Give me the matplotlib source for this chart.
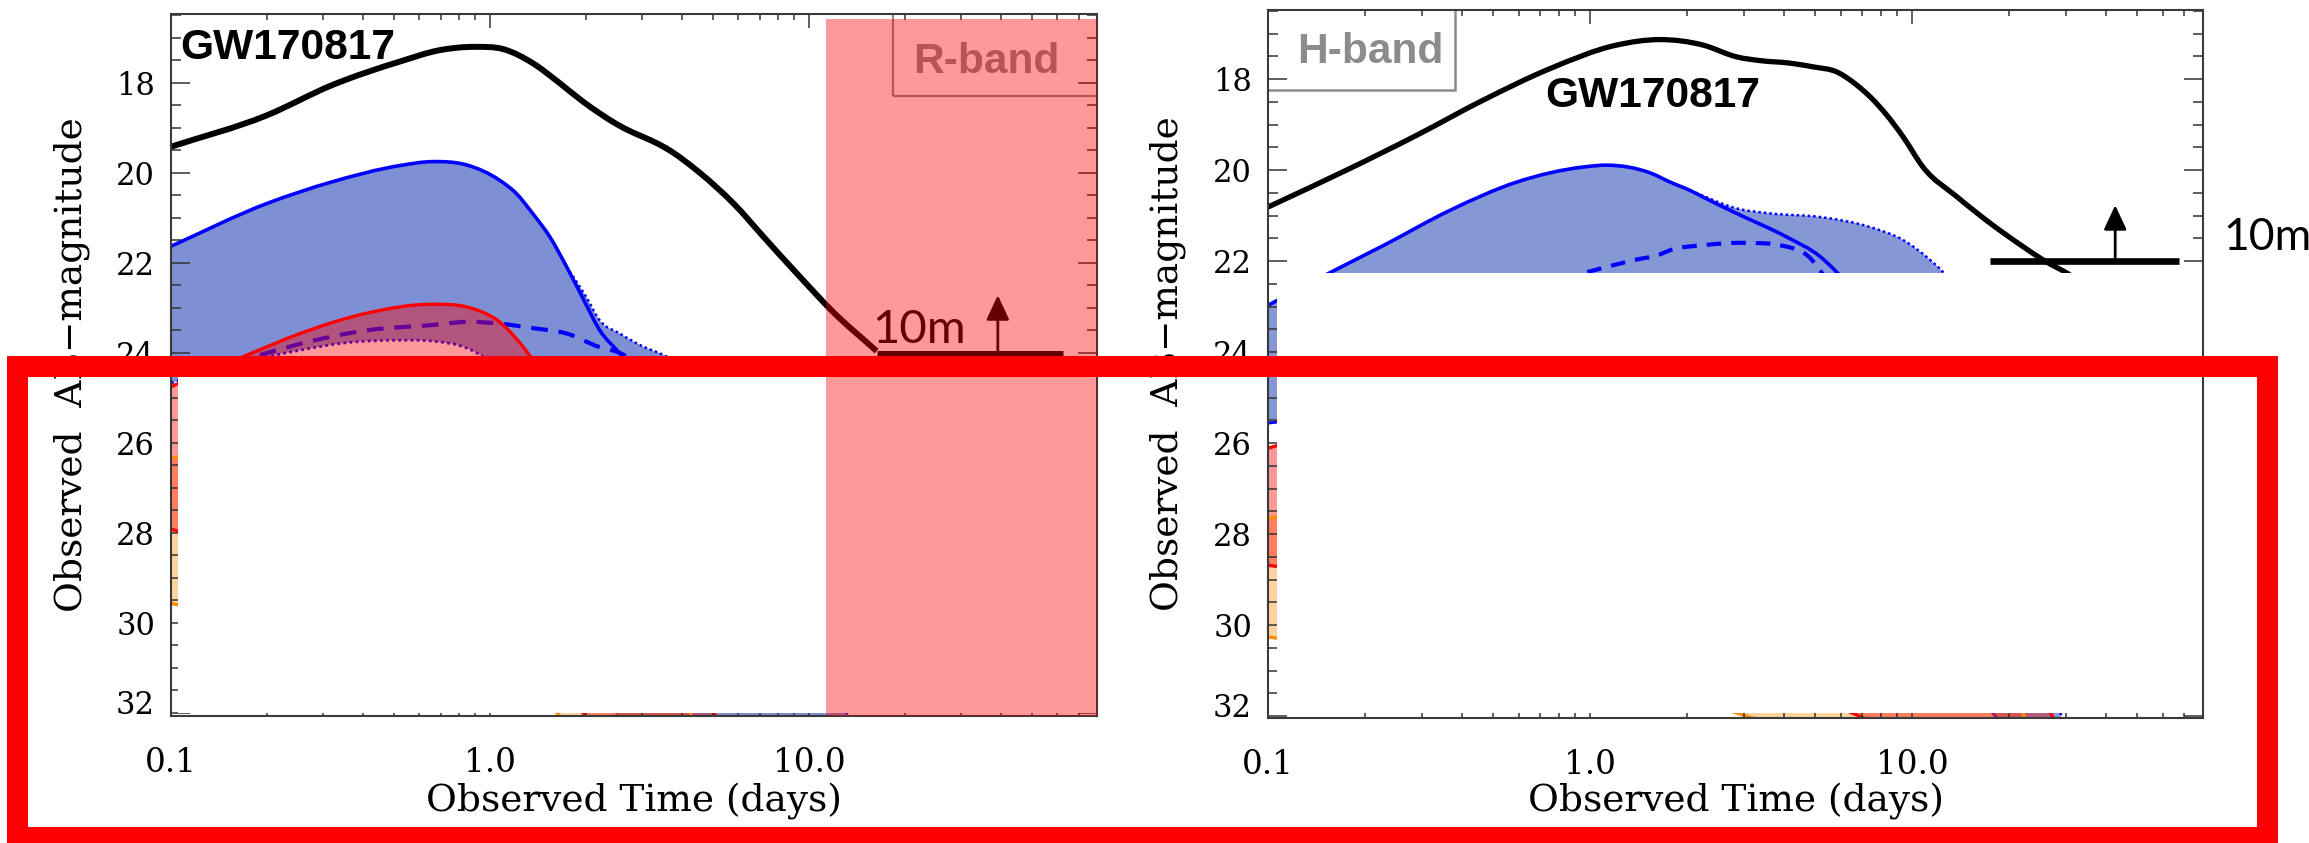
import numpy as np
import matplotlib
matplotlib.use("Agg")
import matplotlib.pyplot as plt
from matplotlib.patches import Rectangle, PathPatch
from matplotlib.path import Path
from matplotlib.ticker import LogLocator, NullFormatter, MultipleLocator
import matplotlib.transforms as mtransforms

plt.rcParams['font.family'] = ['DejaVu Serif']

# ---------------- shared axis data ----------------
x_ticks = [0.1, 1.0, 10.0]
x_tick_labels = ["0.1", "1.0", "10.0"]
y_ticks = [18, 20, 22, 24, 26, 28, 30, 32]
y_tick_labels = ["18", "20", "22", "24", "26", "28", "30", "32"]

# ---------------- R-band panel ----------------
r_black_t = [0.1, 0.2, 0.32, 0.52, 0.7, 0.9, 1.1, 1.36, 1.65, 1.96, 2.21, 2.5, 2.8,
             3.2, 3.58, 4.55, 5.8, 7.37, 9.37, 11.9, 16.3]
r_black_m = [19.42, 18.72, 18.05, 17.53, 17.27, 17.2, 17.25, 17.56, 18.0, 18.42, 18.68,
             18.92, 19.1, 19.28, 19.46, 20.0, 20.68, 21.5, 22.31, 23.09, 23.96]

r_blue_top_t = [0.1, 0.2, 0.32, 0.52, 0.66, 0.85, 1.07, 1.21, 1.36, 1.54, 1.74, 1.96,
                2.21, 2.55, 2.9, 3.5]
r_blue_top_m = [21.63, 20.68, 20.2, 19.84, 19.75, 19.83, 20.16, 20.46, 20.9, 21.42,
                22.09, 22.8, 23.5, 24.01, 24.5, 25.3]
r_blue_edge_t = [1.74, 2.0, 2.21, 2.55, 3.0, 3.5, 4.2, 5.0, 7.0, 10.0, 14.0]
r_blue_edge_m = [22.09, 22.75, 23.28, 23.57, 23.85, 24.05, 24.4, 25.0, 27.0, 29.5, 32.6]
r_blue_low_t = [0.1, 0.15, 0.25, 0.35, 0.52, 0.66, 0.85, 1.0, 1.3, 1.8, 2.6, 14.0]
r_blue_low_m = [24.67, 24.3, 23.95, 23.78, 23.72, 23.74, 23.9, 24.2, 25.2, 27.5, 32.6, 32.6]
r_blue_dash_t = [0.19, 0.254, 0.41, 0.664, 0.85, 1.07, 1.36, 1.74, 2.2, 2.55, 3.2]
r_blue_dash_m = [24.05, 23.8, 23.5, 23.38, 23.31, 23.35, 23.45, 23.57, 23.87, 24.0, 24.5]

r_red_top_t = [0.1, 0.173, 0.254, 0.41, 0.664, 0.845, 1.07, 1.33, 1.6, 2.0, 2.6, 3.5, 5.5]
r_red_top_m = [24.75, 24.05, 23.57, 23.12, 22.92, 22.98, 23.31, 24.05, 24.9, 26.0, 27.8,
               29.5, 32.6]
r_red_low_t = [0.1, 0.2, 0.5, 1.0, 1.6, 2.3, 5.5]
r_red_low_m = [27.92, 28.5, 29.3, 30.2, 31.2, 32.6, 32.6]

r_orange_top_t = [0.1, 0.3, 0.8, 1.5, 2.5, 3.5, 4.5]
r_orange_top_m = [26.34, 25.7, 25.6, 26.3, 28.0, 30.0, 32.6]
r_orange_low_t = [0.1, 0.3, 0.8, 1.5, 2.0, 4.5]
r_orange_low_m = [29.57, 30.2, 31.0, 31.8, 32.6, 32.6]

r_limit_t = [16.3, 62.4]
r_limit_m = 24.0
r_arrow_t = 39.1
r_arrow_tip = 22.72
r_window_start = 11.3

# ---------------- H-band panel ----------------
h_black_t = [0.1, 0.18, 0.29, 0.466, 0.75, 1.21, 1.65, 2.24, 2.85, 3.45, 4.08, 4.93,
             5.83, 6.73, 7.41, 8.34, 9.38, 10.8, 13.8, 17.5, 22.2, 25.6, 30.2, 36.0]
h_black_m = [20.81, 19.96, 19.23, 18.46, 17.77, 17.25, 17.13, 17.25, 17.51, 17.6, 17.64,
             17.73, 17.84, 18.13, 18.39, 18.79, 19.27, 19.93, 20.59, 21.17, 21.69, 21.98,
             22.26, 22.6]

h_blue_top_t = [0.1, 0.156, 0.229, 0.368, 0.593, 0.955, 1.13, 1.55, 1.77, 2.05, 2.24,
                2.85, 4.08, 5.18, 5.83, 7.0]
h_blue_top_m = [22.97, 22.25, 21.65, 20.88, 20.26, 19.93, 19.89, 20.07, 20.26, 20.45,
                20.59, 20.95, 21.47, 21.9, 22.24, 22.9]
h_blue_edge_t = [2.05, 2.85, 3.62, 5.18, 7.4, 9.4, 11.4, 12.5, 15.0, 20.0, 30.0]
h_blue_edge_m = [20.45, 20.84, 20.95, 21.03, 21.25, 21.54, 21.98, 22.25, 23.2, 25.5, 32.6]
h_blue_low_t = [0.1, 0.3, 1.0, 3.0, 8.0, 24.0, 30.0]
h_blue_low_m = [25.56, 25.2, 25.0, 26.0, 28.5, 32.6, 32.6]
h_blue_dash_t = [0.98, 1.36, 1.65, 1.77, 2.24, 3.2, 3.89, 4.82, 5.3]
h_blue_dash_m = [22.24, 21.98, 21.85, 21.76, 21.65, 21.6, 21.65, 21.93, 22.3]

h_red_top_t = [0.1, 0.3, 1.0, 3.0, 8.0, 15.0, 30.0]
h_red_top_m = [26.11, 25.2, 24.8, 25.3, 27.0, 28.5, 32.6]
h_red_low_t = [0.1, 0.5, 2.0, 5.0, 8.9, 30.0]
h_red_low_m = [28.68, 29.5, 30.8, 31.6, 32.3, 32.6]

h_orange_top_t = [0.1, 0.5, 2.0, 8.0, 16.0, 24.0]
h_orange_top_m = [27.65, 26.8, 26.5, 27.5, 29.5, 32.6]
h_orange_low_t = [0.1, 0.5, 2.0, 4.3, 24.0]
h_orange_low_m = [30.26, 30.9, 31.6, 32.3, 32.6]

h_limit_t = [17.5, 67.5]
h_limit_m = 22.0
h_arrow_t = 42.7
h_arrow_tip = 20.77

event_name = "GW170817"
limit_label = "10m"
x_label = "Observed Time (days)"
y_label = "Observed  AB\u2212magnitude"

BLUE = "#0000ff"
RED = "#ff0000"
ORANGE = "#ff8c00"
GREY = "#8c8c8c"


def bezier_vertices(t, m):
    """Cubic Hermite segments through the points, laid out in log-time space."""
    x = np.log10(np.asarray(t, float))
    y = np.asarray(m, float)
    n = len(x)
    h = np.diff(x)
    d = np.diff(y) / h
    s = np.empty(n)
    s[0], s[-1] = d[0], d[-1]
    for i in range(1, n - 1):
        s[i] = (d[i - 1] * h[i] + d[i] * h[i - 1]) / (h[i - 1] + h[i])
    verts = [(x[0], y[0])]
    for i in range(n - 1):
        verts.append((x[i] + h[i] / 3, y[i] + s[i] * h[i] / 3))
        verts.append((x[i + 1] - h[i] / 3, y[i + 1] - s[i + 1] * h[i] / 3))
        verts.append((x[i + 1], y[i + 1]))
    v = np.array(verts)
    v[:, 0] = 10 ** v[:, 0]
    return v


def curve(ax, t, m, color, lw, ls='-', z=1.1):
    v = bezier_vertices(t, m)
    codes = [Path.MOVETO] + [Path.CURVE4] * (len(v) - 1)
    ax.add_patch(PathPatch(Path(v, codes), facecolor='none', edgecolor=color, lw=lw,
                           linestyle=ls, zorder=z, capstyle='butt', joinstyle='round'))


def band(ax, top_t, top_m, low_t, low_m, color, alpha, z):
    top = bezier_vertices(top_t, top_m)
    low = bezier_vertices(low_t, low_m)[::-1]
    verts = np.vstack([top, low, top[:1]])
    codes = ([Path.MOVETO] + [Path.CURVE4] * (len(top) - 1) + [Path.LINETO]
             + [Path.CURVE4] * (len(low) - 1) + [Path.CLOSEPOLY])
    ax.add_patch(PathPatch(Path(verts, codes), facecolor=color, alpha=alpha,
                           edgecolor='none', lw=0, zorder=z))


def fill_top(top_t, top_m, edge_t, edge_m):
    t = [a for a in top_t if a < edge_t[0]] + list(edge_t)
    m = [b for a, b in zip(top_t, top_m) if a < edge_t[0]] + list(edge_m)
    return t, m


def style_axes(ax, fig, ylim):
    ax.set_xscale('log')
    ax.set_xlim(0.1, 80)
    ax.set_ylim(*ylim)
    ax.set_xticks(x_ticks, x_tick_labels)
    ax.xaxis.set_minor_locator(LogLocator(base=10, subs=np.arange(2, 10)))
    ax.xaxis.set_minor_formatter(NullFormatter())
    ax.set_yticks(y_ticks, y_tick_labels)
    ax.yaxis.set_minor_locator(MultipleLocator(0.5))
    ax.tick_params(which='both', direction='in', top=True, right=True, color='#333333')
    ax.tick_params(axis='y', which='major', length=13.7, width=1.1, pad=11.5, labelsize=22)
    ax.tick_params(axis='y', which='minor', length=7.5, width=1.1)
    ax.tick_params(axis='x', which='major', length=10, width=1.1, pad=22, labelsize=23.5)
    ax.tick_params(axis='x', which='minor', length=4.3, width=1.1)
    for s in ax.spines.values():
        s.set_linewidth(1.5)
        s.set_color('#3a3a3a')
    ax.set_xlabel(x_label, fontsize=27)
    ax.set_ylabel(y_label, fontsize=27)
    for lbl in ax.get_yticklabels():
        if lbl.get_text() == "32":
            lbl.set_transform(lbl.get_transform() +
                              mtransforms.ScaledTranslation(0, 8 / 72, fig.dpi_scale_trans))


def limit_marker(ax, lt, lm, at, tip, lw):
    ax.plot(lt, [lm, lm], color='black', lw=lw, solid_capstyle='butt', zorder=1.7)
    ax.annotate('', xy=(at, tip), xytext=(at, lm),
                arrowprops=dict(arrowstyle='-|>,head_length=0.75,head_width=0.35',
                                color='black', lw=2.0, shrinkA=0, shrinkB=0,
                                mutation_scale=20),
                zorder=1.7)


def draw_models(ax, blue_fill, top_t, top_m, edge_t, edge_m, low_t, low_m, low_ls,
                dash_t, dash_m, dash_pat, orange, red, black_t, black_m, black_lw):
    t, m = fill_top(top_t, top_m, edge_t, edge_m)
    band(ax, t, m, low_t, low_m, blue_fill, 1.0, 1.0)
    curve(ax, top_t, top_m, BLUE, 2.6)
    curve(ax, edge_t, edge_m, BLUE, 1.8, (0, (1, 1.2)))
    curve(ax, low_t, low_m, BLUE, 2.0, low_ls)
    curve(ax, dash_t, dash_m, BLUE, 3.0, dash_pat)
    band(ax, *orange, ORANGE, 0.38, 1.15)
    band(ax, *red, RED, 0.4, 1.2)
    curve(ax, red[0], red[1], RED, 2.4, z=1.3)
    curve(ax, red[2], red[3], RED, 2.4, z=1.3)
    curve(ax, orange[0], orange[1], ORANGE, 2.4, z=1.35)
    curve(ax, orange[2], orange[3], ORANGE, 2.4, z=1.35)
    curve(ax, black_t, black_m, 'black', black_lw, z=1.6)


fig = plt.figure(figsize=(23.09, 8.43), dpi=100)
ax1 = fig.add_axes([0.07406, 0.15065, 0.40104, 0.83274])
ax2 = fig.add_axes([0.54916, 0.14828, 0.40494, 0.83986])

# ---- R-band ----
draw_models(ax1, '#7f8fd3', r_blue_top_t, r_blue_top_m, r_blue_edge_t, r_blue_edge_m,
            r_blue_low_t, r_blue_low_m, (0, (1, 1.2)),
            r_blue_dash_t, r_blue_dash_m, (0, (4, 2.6)),
            (r_orange_top_t, r_orange_top_m, r_orange_low_t, r_orange_low_m),
            (r_red_top_t, r_red_top_m, r_red_low_t, r_red_low_m),
            r_black_t, r_black_m, 4.3)
limit_marker(ax1, r_limit_t, r_limit_m, r_arrow_t, r_arrow_tip, 3.6)
ax1.text(15.73, 23.79, limit_label, family='Lato', fontsize=34,
         ha='left', va='baseline', zorder=1.7)
ax1.text(0.0097, 0.9359, event_name, transform=ax1.transAxes, family='Liberation Sans',
         fontweight='bold', fontsize=30.6, ha='left', va='baseline', zorder=1.8)
ax1.add_patch(Rectangle((0.78, 0.8836), 0.3, 0.3, transform=ax1.transAxes,
                        facecolor='none', edgecolor=GREY, lw=1.6, zorder=1.8))
ax1.text(0.8013, 0.916, "R-band", transform=ax1.transAxes, family='Liberation Sans',
         fontweight='bold', fontsize=30.6, color=GREY, ha='left', va='baseline', zorder=1.8)
ax1.add_patch(Rectangle((0.1052, 24.16), 100, 32.0 - 24.16, facecolor='white',
                        edgecolor='none', zorder=2.3))
ax1.axvspan(r_window_start, 200, ymin=0, ymax=0.9929, color=RED, alpha=0.4, lw=0, zorder=2.6)
style_axes(ax1, fig, (32.07, 16.47))
ax1.xaxis.set_label_coords(0.5, -0.0954)
ax1.yaxis.set_label_coords(-0.0875, 0.5)

# ---- H-band ----
draw_models(ax2, '#8697d6', h_blue_top_t, h_blue_top_m, h_blue_edge_t, h_blue_edge_m,
            h_blue_low_t, h_blue_low_m, '-',
            h_blue_dash_t, h_blue_dash_m, (0, (3.5, 2.4)),
            (h_orange_top_t, h_orange_top_m, h_orange_low_t, h_orange_low_m),
            (h_red_top_t, h_red_top_m, h_red_low_t, h_red_low_m),
            h_black_t, h_black_m, 3.8)
limit_marker(ax2, h_limit_t, h_limit_m, h_arrow_t, h_arrow_tip, 4.8)
ax2.text(92.5, 21.76, limit_label, family='Lato', fontsize=32, ha='left', va='baseline',
         clip_on=False, zorder=1.7)
ax2.text(0.2963, 0.863, event_name, transform=ax2.transAxes, family='Liberation Sans',
         fontweight='bold', fontsize=30.6, ha='left', va='baseline', zorder=1.8)
ax2.add_patch(Rectangle((-0.1, 0.887), 0.3, 0.3, transform=ax2.transAxes,
                        facecolor='none', edgecolor=GREY, lw=1.8, zorder=1.8))
ax2.text(0.031, 0.925, "H-band", transform=ax2.transAxes, family='Liberation Sans',
         fontweight='bold', fontsize=30.6, color=GREY, ha='left', va='baseline', zorder=1.8)
ax2.add_patch(Rectangle((0.1066, 22.25), 100, 31.93 - 22.25, facecolor='white',
                        edgecolor='none', zorder=2.3))
style_axes(ax2, fig, (32.04, 16.48))
ax2.xaxis.set_label_coords(0.5, -0.0918)
ax2.yaxis.set_label_coords(-0.0877, 0.5)

# red frame drawn across the lower part of both panels
W, H = 2309.0, 843.0
fx0, fx1 = 16.5 / W, 2266.5 / W
fy_top, fy_bot = 1 - 366.2 / H, 1 - 837.2 / H
fig.add_artist(Rectangle((fx0, fy_bot), fx1 - fx0, fy_top - fy_bot, transform=fig.transFigure,
                         fill=False, edgecolor=RED, lw=15.12, joinstyle='miter', zorder=10))

fig.savefig("out.png", dpi=100)
